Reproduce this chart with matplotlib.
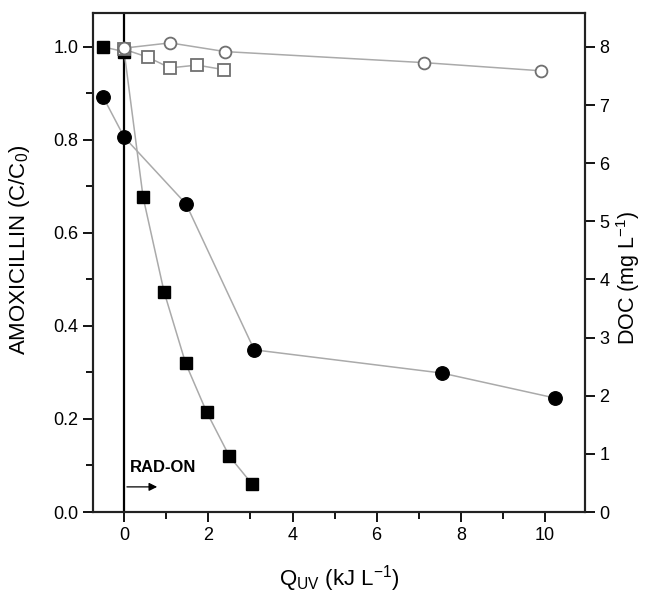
import matplotlib
matplotlib.use("Agg")
import matplotlib.pyplot as plt
from matplotlib.ticker import MultipleLocator

plt.rcParams['font.family'] = ['Liberation Sans', 'DejaVu Sans']
plt.rcParams['mathtext.default'] = 'regular'

# Amoxicillin C/C0 (filled squares)
amx_x = [-0.5, 0.0, 0.45, 0.95, 1.46, 1.96, 2.5, 3.04]
amx_y = [1.0, 0.99, 0.677, 0.473, 0.32, 0.215, 0.12, 0.06]
# Amoxicillin dark control (open squares)
amx0_x = [0.0, 0.56, 1.09, 1.73, 2.38]
amx0_y = [0.995, 0.978, 0.955, 0.961, 0.951]
# DOC (filled circles)
doc_x = [-0.5, 0.0, 1.47, 3.09, 7.55, 10.24]
doc_y = [7.14, 6.45, 5.30, 2.79, 2.39, 1.96]
# DOC dark control (open circles)
doc0_x = [0.0, 1.09, 2.4, 7.13, 9.9]
doc0_y = [7.98, 8.07, 7.92, 7.73, 7.59]

fig = plt.figure(figsize=(6.45, 6.02), dpi=100)
ax = fig.add_axes([0.1442, 0.1495, 0.7628, 0.8289])
ax2 = ax.twinx()

line_c = '#aaaaaa'
ax.axvline(0, color='black', lw=1.6, zorder=1)

ax.plot(amx_x, amx_y, '-', color=line_c, lw=1.1, zorder=2)
ax.plot(amx_x, amx_y, 's', color='black', ms=8.7, zorder=3)
ax.plot(amx0_x, amx0_y, '-', color=line_c, lw=1.1, zorder=2)
ax.plot(amx0_x, amx0_y, 's', mfc='white', mec='#707070', mew=1.3, ms=8, zorder=3)

ax2.plot(doc_x, doc_y, '-', color=line_c, lw=1.1, zorder=2)
ax2.plot(doc_x, doc_y, 'o', color='black', ms=9.7, zorder=3)
ax2.plot(doc0_x, doc0_y, '-', color=line_c, lw=1.1, zorder=2)
ax2.plot(doc0_x, doc0_y, 'o', mfc='white', mec='#707070', mew=1.3, ms=8.5, zorder=3)

ax.set_xlim(-0.74, 10.95)
ax.set_ylim(0, 1.073)
ax2.set_ylim(0, 8.584)

ax.xaxis.set_major_locator(MultipleLocator(2))
ax.xaxis.set_minor_locator(MultipleLocator(1))
ax.yaxis.set_major_locator(MultipleLocator(0.2))
ax.yaxis.set_minor_locator(MultipleLocator(0.1))
ax2.yaxis.set_major_locator(MultipleLocator(1))

for a in (ax, ax2):
    for s in a.spines.values():
        s.set_linewidth(1.5)
        s.set_color('#222222')
ax.tick_params(axis='both', which='major', direction='out', length=7, width=1.3, labelsize=13)
ax.tick_params(axis='both', which='minor', direction='out', length=5, width=1.3)
ax.tick_params(axis='y', which='both', right=False)
ax.tick_params(axis='x', which='both', top=False)
ax2.tick_params(axis='y', which='major', direction='out', length=7, width=1.3, labelsize=13)

ax.set_yticklabels([f'{v:.1f}' for v in ax.get_yticks()])
ax.set_ylabel('AMOXICILLIN (C/C$_0$)', fontsize=16)
ax.yaxis.set_label_coords(-0.123, 0.525)
ax2.set_ylabel('DOC (mg L$^{-1}$)', fontsize=15.5)
ax2.yaxis.set_label_coords(1.06, 0.469)
ax.set_xlabel('Q$_{UV}$ (kJ L$^{-1}$)', fontsize=16, labelpad=14)

ax.text(0.13, 0.095, 'RAD-ON', fontsize=12, fontweight='bold', ha='left', va='center')
ax.annotate('', xy=(0.85, 0.054), xytext=(0.0, 0.054),
            arrowprops=dict(arrowstyle='-|>', color='black', lw=0.9, mutation_scale=12))

fig.savefig('out.png', dpi=100)
